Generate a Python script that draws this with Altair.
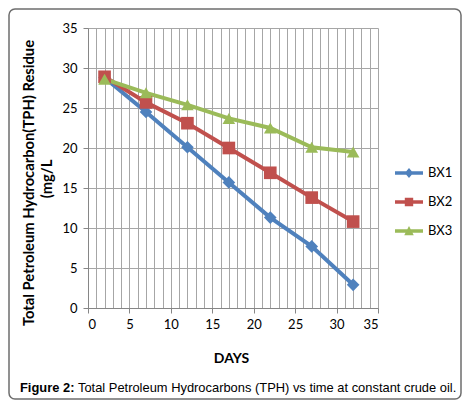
import altair as alt
import pandas as pd

days = [2, 7, 12, 17, 22, 27, 32]
bx1 = [28.8, 24.5, 20.1, 15.7, 11.3, 7.7, 2.9]
bx2 = [28.9, 25.7, 23.1, 20.0, 16.9, 13.8, 10.8]
bx3 = [28.6, 26.9, 25.4, 23.7, 22.5, 20.1, 19.5]
series = ["BX1", "BX2", "BX3"]
colors = ["#4F81BD", "#C0504D", "#9BBB59"]
marks = ["diamond", "square", "triangle-up"]
x_ticks = list(range(0, 36))
y_ticks = [0, 5, 10, 15, 20, 25, 30, 35]
y_title = ["Total Petroleum Hydrocarbon(TPH) Residue", "(mg/L"]
caption_bold = "Figure 2:"
caption_rest = "Total Petroleum Hydrocarbons (TPH) vs time at constant crude oil."

df = pd.DataFrame({
    "DAYS": days * 3,
    "TPH": bx1 + bx2 + bx3,
    "series": [s for s in series for _ in days],
})

# legend symbols: a short bar with the marker on top
leg_paths = [
    "M-1,-0.12H1V0.12H-1Z M0,-0.36L0.3,0L0,0.36L-0.3,0Z",
    "M-1,-0.12H1V0.12H-1Z M-0.3,-0.3H0.3V0.3H-0.3Z",
    "M-1,-0.12H1V0.12H-1Z M0,-0.36L0.34,0.3H-0.34Z",
]

font = "Lato"
x = alt.X("DAYS:Q", scale=alt.Scale(domain=[0, 35], nice=False),
          axis=alt.Axis(values=x_ticks, grid=True, gridColor="#a6a6a6", gridOpacity=1,
                        domainColor="#868686", tickColor="#868686", tickSize=5,
                        tickOpacity={"condition": {"test": "datum.value % 5 === 0", "value": 1}, "value": 0},
                        labelExpr="datum.value % 5 === 0 ? datum.label : ''",
                        labelFont=font, labelFontSize=13, labelColor="#000", labelPadding=5,
                        title="DAYS", titleFont=font, titleFontSize=14, titleFontWeight="bold",
                        titleColor="#000", titleX=143, titleY=50, titleBaseline="middle"))
y = alt.Y("TPH:Q", scale=alt.Scale(domain=[0, 35], nice=False),
          axis=alt.Axis(values=y_ticks, grid=True, gridColor="#a6a6a6", gridOpacity=1,
                        domainColor="#868686", tickColor="#868686", tickSize=5,
                        labelFont=font, labelFontSize=13, labelColor="#000", labelPadding=6,
                        title=None))

legend = alt.Legend(title=None, orient="none", legendX=307, legendY=131,
                    symbolSize=784, symbolOpacity=1, symbolStrokeWidth=0,
                    labelFont=font, labelFontSize=13, labelColor="#000",
                    labelOffset=5, rowPadding=8, padding=0)
col = alt.Color("series:N", scale=alt.Scale(domain=series, range=colors), legend=legend)

base = alt.Chart(df)
lines = base.mark_line(strokeWidth=4).encode(x=x, y=y, color=col)
point_layers = [
    base.transform_filter(alt.datum.series == s).mark_point(
        filled=True, size=160, opacity=1, shape=m).encode(x=x, y=y, color=col)
    for s, m in zip(series, marks)
]
leg = base.mark_point(filled=True, opacity=0).encode(
    x=x, y=y, color=col,
    shape=alt.Shape("series:N", scale=alt.Scale(domain=series, range=leg_paths), legend=legend))

one = alt.Chart(pd.DataFrame({"a": [0]}))
border = one.mark_rect(fill=None, stroke="#6d6d6d", strokeWidth=1.5, cornerRadius=6).encode(
    x=alt.value(-79), x2=alt.value(373), y=alt.value(-19), y2=alt.value(371))
ytitle1 = one.mark_text(angle=270, align="center", baseline="middle", font=font, fontSize=14.75,
                        fontWeight="bold", color="#000").encode(
    x=alt.value(-58), y=alt.value(155), text=alt.value(y_title[0]))
ytitle2 = one.mark_text(angle=270, align="center", baseline="middle", font=font, fontSize=14.75,
                        fontWeight="bold", color="#000").encode(
    x=alt.value(-40), y=alt.value(151), text=alt.value(y_title[1]))
cap1 = one.mark_text(align="left", baseline="middle", font="Liberation Sans", fontSize=12.9,
                     fontWeight="bold", color="#000").encode(
    x=alt.value(-68), y=alt.value(360), text=alt.value(caption_bold))
cap2 = one.mark_text(align="left", baseline="middle", font="Liberation Sans", fontSize=12.9,
                     color="#000").encode(
    x=alt.value(-10), y=alt.value(360), text=alt.value(caption_rest))

chart = alt.layer(border, lines, *point_layers, leg, ytitle1, ytitle2, cap1, cap2).properties(
    width=290, height=280,
    autosize=alt.AutoSizeParams(type="none"),
    padding={"left": 80, "top": 20, "right": 84, "bottom": 92},
).configure_view(stroke=None)

chart.save("out.html", embed_options={"renderer": "svg", "actions": False})
